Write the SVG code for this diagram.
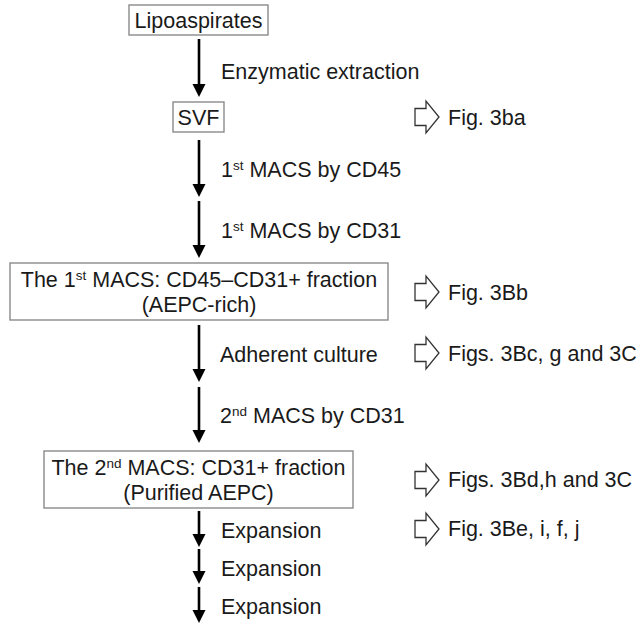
<svg xmlns="http://www.w3.org/2000/svg" width="640" height="627" viewBox="0 0 640 627">
  <style>
    text { font-family: "Liberation Sans", Arial, sans-serif; font-size: 21.5px; fill: #1a1a1a; }
    .c { text-anchor: middle; }
    .sup { font-size: 13.5px; }
    .box { fill: #fff; stroke: #8a8a8a; stroke-width: 1.4; }
    .shaft { stroke: #000; stroke-width: 2.6; fill: none; }
    .head { fill: #000; }
    .hollow { fill: #fff; stroke: #333; stroke-width: 1.3; stroke-linejoin: miter; }
  </style>
  <rect width="640" height="627" fill="#fff"/>

  <g id="connectors">
    <g id="a1"><line class="shaft" x1="199" y1="39" x2="199" y2="86"/><polygon class="head" points="192.5,84 205.5,84 199,97"/></g>
    <g id="a2"><line class="shaft" x1="199" y1="140" x2="199" y2="186"/><polygon class="head" points="192.5,184 205.5,184 199,197"/></g>
    <g id="a3"><line class="shaft" x1="199" y1="201" x2="199" y2="247"/><polygon class="head" points="192.5,245 205.5,245 199,258"/></g>
    <g id="a4"><line class="shaft" x1="199" y1="325" x2="199" y2="371"/><polygon class="head" points="192.5,369 205.5,369 199,382"/></g>
    <g id="a5"><line class="shaft" x1="199" y1="387" x2="199" y2="432"/><polygon class="head" points="192.5,430 205.5,430 199,443"/></g>
    <g id="a6"><line class="shaft" x1="199" y1="511" x2="199" y2="536"/><polygon class="head" points="192.5,534 205.5,534 199,547"/></g>
    <g id="a7"><line class="shaft" x1="199" y1="549" x2="199" y2="573"/><polygon class="head" points="192.5,571 205.5,571 199,584"/></g>
    <g id="a8"><line class="shaft" x1="199" y1="587" x2="199" y2="612"/><polygon class="head" points="192.5,610 205.5,610 199,623"/></g>

    <text x="221" y="79">Enzymatic extraction</text>
    <text x="221" y="177">1<tspan class="sup" dy="-7">st</tspan><tspan dy="7"> MACS by CD45</tspan></text>
    <text x="221" y="238">1<tspan class="sup" dy="-7">st</tspan><tspan dy="7"> MACS by CD31</tspan></text>
    <text x="220" y="362">Adherent culture</text>
    <text x="220" y="423">2<tspan class="sup" dy="-7">nd</tspan><tspan dy="7"> MACS by CD31</tspan></text>
    <text x="221" y="538">Expansion</text>
    <text x="221" y="576">Expansion</text>
    <text x="221" y="614">Expansion</text>
  </g>

  <g id="pointers">
    <g id="p1"><polygon class="hollow" points="415,108.5 426,108.5 426,101 439,117 426,133 426,125.5 415,125.5"/><text x="448" y="125">Fig. 3ba</text></g>
    <g id="p2"><polygon class="hollow" points="415,283.5 426,283.5 426,276 439,292 426,308 426,300.5 415,300.5"/><text x="448" y="300">Fig. 3Bb</text></g>
    <g id="p3"><polygon class="hollow" points="415,344.5 426,344.5 426,337 439,353 426,369 426,361.5 415,361.5"/><text x="448" y="361">Figs. 3Bc, g and 3C</text></g>
    <g id="p4"><polygon class="hollow" points="415,471.5 426,471.5 426,464 439,480 426,496 426,488.5 415,488.5"/><text x="448" y="487">Figs. 3Bd,h and 3C</text></g>
    <g id="p5"><polygon class="hollow" points="415,520.5 426,520.5 426,513 439,529 426,545 426,537.5 415,537.5"/><text x="448" y="536">Fig. 3Be, i, f, j</text></g>
  </g>

  <g id="lipoaspirates">
    <rect class="box" x="129" y="5" width="139" height="30"/>
    <text class="c" x="198.5" y="28">Lipoaspirates</text>
  </g>
  <g id="svf">
    <rect class="box" x="173" y="102" width="51" height="30"/>
    <text class="c" x="198.5" y="125">SVF</text>
  </g>
  <g id="macs1">
    <rect class="box" x="10" y="263" width="378" height="57"/>
    <text class="c" x="199" y="287">The 1<tspan class="sup" dy="-7">st</tspan><tspan dy="7"> MACS: CD45–CD31+ fraction</tspan></text>
    <text class="c" x="199" y="312">(AEPC-rich)</text>
  </g>
  <g id="macs2">
    <rect class="box" x="44" y="451" width="309" height="57"/>
    <text class="c" x="198.5" y="475">The 2<tspan class="sup" dy="-7">nd</tspan><tspan dy="7"> MACS: CD31+ fraction</tspan></text>
    <text class="c" x="198.5" y="500">(Purified AEPC)</text>
  </g>
</svg>
